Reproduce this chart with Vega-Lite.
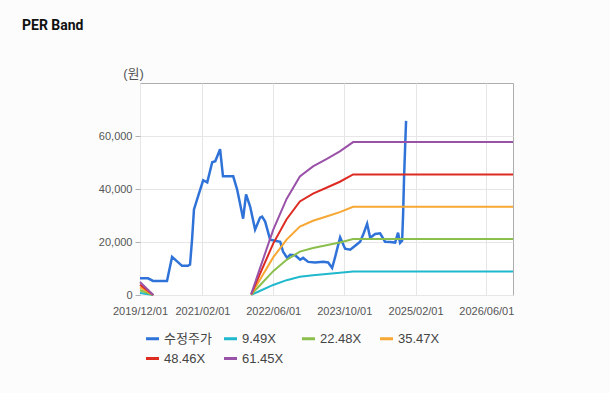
{
  "$schema": "https://vega.github.io/schema/vega-lite/v6.json",
  "width": 373,
  "height": 212,
  "autosize": {"type": "none"},
  "padding": {"left": 140, "top": 83, "right": 97, "bottom": 98},
  "background": "#fcfcfc",
  "title": {"text": "PER Band", "anchor": "start", "frame": "group", "dx": -118, "offset": 27, "baseline": "middle", "fontSize": 14, "font": "Roboto", "fontWeight": "bold", "color": "#111111"},
  "config": {
    "view": {"fill": "#ffffff", "stroke": "#adadad", "strokeWidth": 1},
    "font": "Liberation Sans, Noto Sans CJK KR"
  },
  "datasets": {
    "price": [
      {"date": "2019-12-01", "series": "수정주가", "value": 6300},
      {"date": "2020-01-25", "series": "수정주가", "value": 6300},
      {"date": "2020-02-28", "series": "수정주가", "value": 5300},
      {"date": "2020-06-03", "series": "수정주가", "value": 5300},
      {"date": "2020-07-08", "series": "수정주가", "value": 14400},
      {"date": "2020-09-14", "series": "수정주가", "value": 11000},
      {"date": "2020-10-25", "series": "수정주가", "value": 11000},
      {"date": "2020-11-08", "series": "수정주가", "value": 11500},
      {"date": "2020-11-22", "series": "수정주가", "value": 21000},
      {"date": "2020-12-05", "series": "수정주가", "value": 32300},
      {"date": "2021-01-02", "series": "수정주가", "value": 37200},
      {"date": "2021-02-06", "series": "수정주가", "value": 43300},
      {"date": "2021-03-06", "series": "수정주가", "value": 42500},
      {"date": "2021-04-09", "series": "수정주가", "value": 50100},
      {"date": "2021-04-30", "series": "수정주가", "value": 50500},
      {"date": "2021-06-02", "series": "수정주가", "value": 55000},
      {"date": "2021-06-22", "series": "수정주가", "value": 44800},
      {"date": "2021-08-31", "series": "수정주가", "value": 44800},
      {"date": "2021-09-27", "series": "수정주가", "value": 39800},
      {"date": "2021-11-07", "series": "수정주가", "value": 28800},
      {"date": "2021-11-27", "series": "수정주가", "value": 38000},
      {"date": "2021-12-25", "series": "수정주가", "value": 33400},
      {"date": "2022-01-28", "series": "수정주가", "value": 24700},
      {"date": "2022-03-03", "series": "수정주가", "value": 29200},
      {"date": "2022-03-17", "series": "수정주가", "value": 29600},
      {"date": "2022-04-07", "series": "수정주가", "value": 27700},
      {"date": "2022-05-11", "series": "수정주가", "value": 20900},
      {"date": "2022-06-14", "series": "수정주가", "value": 20500},
      {"date": "2022-07-19", "series": "수정주가", "value": 20100},
      {"date": "2022-08-08", "series": "수정주가", "value": 16300},
      {"date": "2022-09-05", "series": "수정주가", "value": 14000},
      {"date": "2022-09-25", "series": "수정주가", "value": 15200},
      {"date": "2022-10-29", "series": "수정주가", "value": 15000},
      {"date": "2022-12-03", "series": "수정주가", "value": 13300},
      {"date": "2022-12-23", "series": "수정주가", "value": 14000},
      {"date": "2023-01-27", "series": "수정주가", "value": 12500},
      {"date": "2023-03-16", "series": "수정주가", "value": 12300},
      {"date": "2023-05-10", "series": "수정주가", "value": 12500},
      {"date": "2023-06-13", "series": "수정주가", "value": 12300},
      {"date": "2023-07-10", "series": "수정주가", "value": 10200},
      {"date": "2023-07-31", "series": "수정주가", "value": 14400},
      {"date": "2023-09-03", "series": "수정주가", "value": 21800},
      {"date": "2023-10-07", "series": "수정주가", "value": 17500},
      {"date": "2023-11-11", "series": "수정주가", "value": 17100},
      {"date": "2023-12-15", "series": "수정주가", "value": 18600},
      {"date": "2024-01-18", "series": "수정주가", "value": 20100},
      {"date": "2024-02-08", "series": "수정주가", "value": 22800},
      {"date": "2024-03-06", "series": "수정주가", "value": 26900},
      {"date": "2024-03-27", "series": "수정주가", "value": 21600},
      {"date": "2024-04-30", "series": "수정주가", "value": 23000},
      {"date": "2024-06-03", "series": "수정주가", "value": 23300},
      {"date": "2024-07-07", "series": "수정주가", "value": 20100},
      {"date": "2024-08-10", "series": "수정주가", "value": 20000},
      {"date": "2024-09-14", "series": "수정주가", "value": 19800},
      {"date": "2024-10-04", "series": "수정주가", "value": 23500},
      {"date": "2024-10-18", "series": "수정주가", "value": 19700},
      {"date": "2024-11-01", "series": "수정주가", "value": 20500},
      {"date": "2024-11-08", "series": "수정주가", "value": 31000},
      {"date": "2024-11-14", "series": "수정주가", "value": 44000},
      {"date": "2024-11-21", "series": "수정주가", "value": 55000},
      {"date": "2024-11-28", "series": "수정주가", "value": 65700}
    ],
    "bands": [
      {"date": "2019-12-01", "series": "9.49X", "seg": 1, "value": 759},
      {"date": "2020-03-01", "series": "9.49X", "seg": 1, "value": 0},
      {"date": "2022-01-01", "series": "9.49X", "seg": 2, "value": 47},
      {"date": "2022-03-01", "series": "9.49X", "seg": 2, "value": 1518},
      {"date": "2022-06-01", "series": "9.49X", "seg": 2, "value": 3796},
      {"date": "2022-09-01", "series": "9.49X", "seg": 2, "value": 5599},
      {"date": "2022-12-01", "series": "9.49X", "seg": 2, "value": 6909},
      {"date": "2023-03-01", "series": "9.49X", "seg": 2, "value": 7497},
      {"date": "2023-06-01", "series": "9.49X", "seg": 2, "value": 7924},
      {"date": "2023-09-01", "series": "9.49X", "seg": 2, "value": 8370},
      {"date": "2023-12-01", "series": "9.49X", "seg": 2, "value": 8911},
      {"date": "2026-12-01", "series": "9.49X", "seg": 2, "value": 8911},
      {"date": "2019-12-01", "series": "22.48X", "seg": 1, "value": 1798},
      {"date": "2020-03-01", "series": "22.48X", "seg": 1, "value": 0},
      {"date": "2022-01-01", "series": "22.48X", "seg": 2, "value": 112},
      {"date": "2022-03-01", "series": "22.48X", "seg": 2, "value": 3597},
      {"date": "2022-06-01", "series": "22.48X", "seg": 2, "value": 8992},
      {"date": "2022-09-01", "series": "22.48X", "seg": 2, "value": 13263},
      {"date": "2022-12-01", "series": "22.48X", "seg": 2, "value": 16365},
      {"date": "2023-03-01", "series": "22.48X", "seg": 2, "value": 17759},
      {"date": "2023-06-01", "series": "22.48X", "seg": 2, "value": 18771},
      {"date": "2023-09-01", "series": "22.48X", "seg": 2, "value": 19827},
      {"date": "2023-12-01", "series": "22.48X", "seg": 2, "value": 21109},
      {"date": "2026-12-01", "series": "22.48X", "seg": 2, "value": 21109},
      {"date": "2019-12-01", "series": "35.47X", "seg": 1, "value": 2838},
      {"date": "2020-03-01", "series": "35.47X", "seg": 1, "value": 0},
      {"date": "2022-01-01", "series": "35.47X", "seg": 2, "value": 177},
      {"date": "2022-03-01", "series": "35.47X", "seg": 2, "value": 5675},
      {"date": "2022-06-01", "series": "35.47X", "seg": 2, "value": 14188},
      {"date": "2022-09-01", "series": "35.47X", "seg": 2, "value": 20927},
      {"date": "2022-12-01", "series": "35.47X", "seg": 2, "value": 25822},
      {"date": "2023-03-01", "series": "35.47X", "seg": 2, "value": 28021},
      {"date": "2023-06-01", "series": "35.47X", "seg": 2, "value": 29618},
      {"date": "2023-09-01", "series": "35.47X", "seg": 2, "value": 31285},
      {"date": "2023-12-01", "series": "35.47X", "seg": 2, "value": 33306},
      {"date": "2026-12-01", "series": "35.47X", "seg": 2, "value": 33306},
      {"date": "2019-12-01", "series": "48.46X", "seg": 1, "value": 3877},
      {"date": "2020-03-01", "series": "48.46X", "seg": 1, "value": 0},
      {"date": "2022-01-01", "series": "48.46X", "seg": 2, "value": 242},
      {"date": "2022-03-01", "series": "48.46X", "seg": 2, "value": 7754},
      {"date": "2022-06-01", "series": "48.46X", "seg": 2, "value": 19384},
      {"date": "2022-09-01", "series": "48.46X", "seg": 2, "value": 28591},
      {"date": "2022-12-01", "series": "48.46X", "seg": 2, "value": 35279},
      {"date": "2023-03-01", "series": "48.46X", "seg": 2, "value": 38283},
      {"date": "2023-06-01", "series": "48.46X", "seg": 2, "value": 40464},
      {"date": "2023-09-01", "series": "48.46X", "seg": 2, "value": 42742},
      {"date": "2023-12-01", "series": "48.46X", "seg": 2, "value": 45504},
      {"date": "2026-12-01", "series": "48.46X", "seg": 2, "value": 45504},
      {"date": "2019-12-01", "series": "61.45X", "seg": 1, "value": 4916},
      {"date": "2020-03-01", "series": "61.45X", "seg": 1, "value": 0},
      {"date": "2022-01-01", "series": "61.45X", "seg": 2, "value": 307},
      {"date": "2022-03-01", "series": "61.45X", "seg": 2, "value": 9832},
      {"date": "2022-06-01", "series": "61.45X", "seg": 2, "value": 24580},
      {"date": "2022-09-01", "series": "61.45X", "seg": 2, "value": 36256},
      {"date": "2022-12-01", "series": "61.45X", "seg": 2, "value": 44736},
      {"date": "2023-03-01", "series": "61.45X", "seg": 2, "value": 48546},
      {"date": "2023-06-01", "series": "61.45X", "seg": 2, "value": 51311},
      {"date": "2023-09-01", "series": "61.45X", "seg": 2, "value": 54199},
      {"date": "2023-12-01", "series": "61.45X", "seg": 2, "value": 57702},
      {"date": "2026-12-01", "series": "61.45X", "seg": 2, "value": 57702}
    ]
  },
  "encoding": {
    "x": {
      "field": "date", "type": "temporal",
      "scale": {"type": "utc", "domain": [{"year": 2019, "month": 12, "date": 1, "utc": true}, {"year": 2026, "month": 12, "date": 1, "utc": true}]},
      "axis": {
        "title": null,
        "labelExpr": "utcFormat(datum.value, '%Y/%m/%d')",
        "values": [
          {"year": 2019, "month": 12, "date": 1, "utc": true},
          {"year": 2021, "month": 2, "date": 1, "utc": true},
          {"year": 2022, "month": 6, "date": 1, "utc": true},
          {"year": 2023, "month": 10, "date": 1, "utc": true},
          {"year": 2025, "month": 2, "date": 1, "utc": true},
          {"year": 2026, "month": 6, "date": 1, "utc": true}
        ],
        "labelFontSize": 11, "labelColor": "#555555", "labelFont": "Liberation Sans",
        "ticks": false, "domain": false, "labelPadding": 10, "labelOverlap": false, "labelFlush": false,
        "grid": true, "gridColor": "#e6e6e6"
      }
    },
    "y": {
      "field": "value", "type": "quantitative",
      "scale": {"domain": [0, 80000], "nice": false},
      "axis": {
        "title": "(원)", "titleAngle": 0, "titleAlign": "center", "titleBaseline": "middle",
        "titleX": -7, "titleY": -10, "titleFontSize": 13, "titleFontWeight": "normal", "titleColor": "#555555",
        "values": [0, 20000, 40000, 60000], "format": ",d",
        "labelFontSize": 11, "labelColor": "#555555", "labelFont": "Liberation Sans",
        "tickSize": 5, "tickColor": "#b0b0b0", "labelPadding": 3, "domain": false,
        "grid": true, "gridColor": "#e6e6e6"
      }
    },
    "color": {
      "field": "series", "type": "nominal",
      "scale": {
        "domain": ["수정주가", "9.49X", "22.48X", "35.47X", "48.46X", "61.45X"],
        "range": ["#2f73d9", "#1fb8cc", "#8bbf4c", "#f7a733", "#dd2b22", "#9a52a8"]
      },
      "legend": {
        "title": null, "orient": "bottom", "direction": "horizontal", "columns": 4,
        "symbolType": "stroke", "symbolStrokeWidth": 3, "symbolSize": 170,
        "labelFontSize": 13, "labelColor": "#444444", "labelFont": "Liberation Sans, Noto Sans CJK KR",
        "gridAlign": "all", "columnPadding": 5, "rowPadding": 4, "offset": 10, "padding": 4, "labelOffset": 3
      }
    }
  },
  "layer": [
    {
      "data": {"name": "price"},
      "mark": {"type": "line", "strokeWidth": 2.5}
    },
    {
      "data": {"name": "bands"},
      "mark": {"type": "line", "strokeWidth": 2},
      "encoding": {"detail": {"field": "seg", "type": "nominal"}}
    }
  ]
}
